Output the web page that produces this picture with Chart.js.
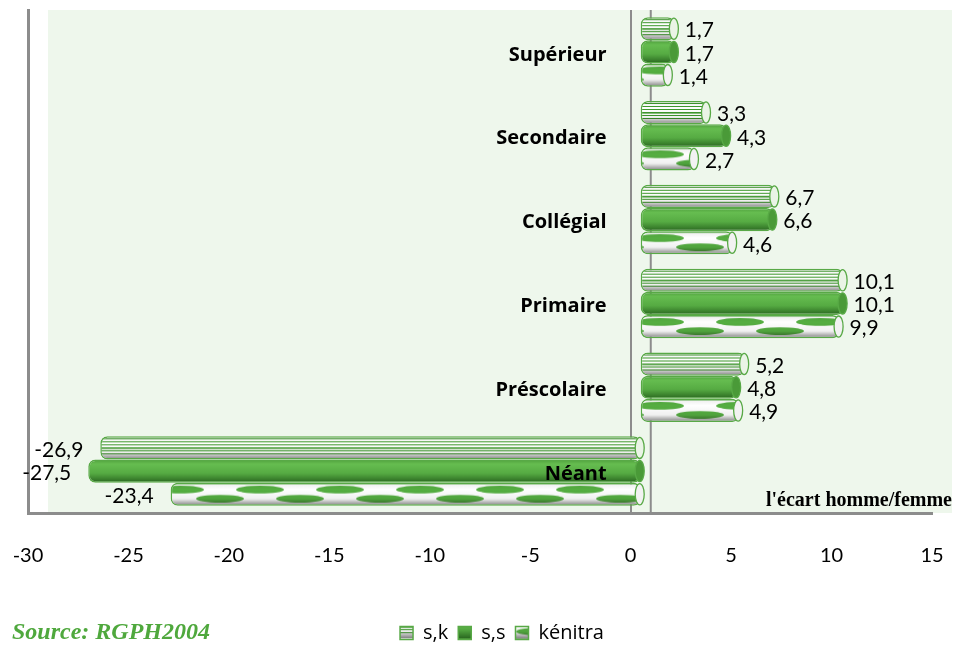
<!DOCTYPE html>
<html lang="fr">
<head>
  <meta charset="UTF-8">
  <title>Écart homme/femme selon le niveau d'instruction</title>
  <script src="https://cdn.jsdelivr.net/npm/chart.js"></script>
  <style>
    html, body { margin: 0; padding: 0; background: #fff; }
    .chart-wrap { position: relative; width: 964px; height: 645px; }
  </style>
</head>
<body>

<div class="chart-wrap">
  <canvas id="ecartChart"></canvas>
</div>

<script>
  // valeurs (de haut en bas)
  const categories = ['Supérieur', 'Secondaire', 'Collégial', 'Primaire', 'Préscolaire', 'Néant'];
  const sk      = [1.7, 3.3, 6.7, 10.1, 5.2, -26.9];
  const ss      = [1.7, 4.3, 6.6, 10.1, 4.8, -27.5];
  const kenitra = [1.4, 2.7, 4.6, 9.9, 4.9, -23.4];
  const xTickValues = [-30, -25, -20, -15, -10, -5, 0, 5, 10, 15];

  const GREEN = '#58a946';
  const AXIS_GREY = '#8c8c8c';
  const CAT_PCT = 0.83;

  function shade(g, w, h) {
    const grad = g.createLinearGradient(0, 0, 0, h);
    grad.addColorStop(0, 'rgba(0,0,0,0.08)');
    grad.addColorStop(0.3, 'rgba(0,0,0,0)');
    grad.addColorStop(0.7, 'rgba(0,0,0,0.06)');
    grad.addColorStop(1, 'rgba(0,0,0,0.5)');
    g.fillStyle = grad;
    g.fillRect(0, 0, w, h);
  }

  // une tuile de la hauteur d'une barre, pour l'effet cylindre
  function makeTile(kind, h) {
    const c = document.createElement('canvas');
    const w = kind === 'kenitra' ? 80 : 8;
    h = Math.max(2, Math.round(h));
    c.width = w; c.height = h;
    const g = c.getContext('2d');
    if (kind === 'ss') {
      const grad = g.createLinearGradient(0, 0, 0, h);
      grad.addColorStop(0, '#4f9f3d');
      grad.addColorStop(0.2, '#66bd50');
      grad.addColorStop(0.6, '#56ab43');
      grad.addColorStop(1, '#2a6720');
      g.fillStyle = grad;
      g.fillRect(0, 0, w, h);
    } else if (kind === 'sk') {
      g.fillStyle = '#fff';
      g.fillRect(0, 0, w, h);
      g.fillStyle = '#3f9a2e';
      for (let y = 2; y < h - 3; y += 3) {
        g.fillRect(0, y, w, (y > h * 0.35 && y < h * 0.6) ? 1.6 : 1);
      }
      shade(g, w, h);
    } else {
      g.fillStyle = '#fff';
      g.fillRect(0, 0, w, h);
      g.fillStyle = '#55ae41';
      const rows = [[h * 0.3, 0], [h * 0.7, w / 2]];
      rows.forEach(([cy, off]) => {
        [-w, 0, w].forEach(dx => {
          g.beginPath();
          g.ellipse(off + dx + w / 4, cy, w * 0.3, h * 0.17, 0, 0, Math.PI * 2);
          g.fill();
        });
      });
      g.fillStyle = 'rgba(78,168,59,0.6)';
      g.fillRect(0, 0, w, 2);
      shade(g, w, h);
    }
    return g.createPattern(c, 'repeat');
  }

  // petites cases de la légende
  function legendFill(kind) {
    if (kind === 'ss') return '#5cb24a';
    const c = document.createElement('canvas');
    c.width = 4; c.height = 3;
    const g = c.getContext('2d');
    g.fillStyle = '#5cb24a';
    g.fillRect(0, 0, 4, 3);
    g.fillStyle = '#fff';
    if (kind === 'sk') g.fillRect(0, 2, 4, 1);
    else g.fillRect(1, 1, 1, 1);
    return g.createPattern(c, 'repeat');
  }

  function barFill(kind, dsIndex) {
    return function (ctx) {
      const chart = ctx.chart;
      const area = chart.chartArea;
      if (!area || ctx.dataIndex === undefined) return legendFill(kind);
      const yScale = chart.scales.y;
      const group = (area.bottom - area.top) / categories.length * CAT_PCT;
      const barH = group / 3;
      const top = yScale.getPixelForValue(ctx.dataIndex) - group / 2 + dsIndex * barH;
      const pat = makeTile(kind, barH);
      pat.setTransform(new DOMMatrix([1, 0, 0, 1, 0, top]));
      return pat;
    };
  }

  const decorPlugin = {
    id: 'decor',
    afterLayout(chart) {
      // légende un peu décalée vers la droite, comme sur l'original
      chart.legend.left += 22;
      chart.legend.right += 22;
    },
    beforeDraw(chart) {
      const {ctx, chartArea: a} = chart;
      ctx.save();
      ctx.fillStyle = '#eef7ec';
      ctx.fillRect(a.left + 20, a.top, a.right - a.left, a.bottom - a.top);
      // paroi du fond (effet 3D)
      const x1 = chart.scales.x.getPixelForValue(1);
      ctx.strokeStyle = AXIS_GREY;
      ctx.lineWidth = 2;
      ctx.beginPath();
      ctx.moveTo(x1, a.top);
      ctx.lineTo(x1, a.bottom);
      ctx.stroke();
      ctx.restore();
    },
    afterDatasetsDraw(chart) {
      const {ctx, chartArea: a} = chart;
      const capFill = ['#eaf4e6', '#4a9a38', '#f2f2f2'];
      ctx.save();
      // bouts des cylindres
      chart.data.datasets.forEach((ds, i) => {
        chart.getDatasetMeta(i).data.forEach(el => {
          const {x, y, base, height} = el.getProps(['x', 'y', 'base', 'height'], true);
          const right = Math.max(x, base);
          ctx.beginPath();
          ctx.ellipse(right - 1, y, 4.5, height / 2 - 1, 0, 0, Math.PI * 2);
          ctx.fillStyle = capFill[i];
          ctx.fill();
          ctx.lineWidth = 1.3;
          ctx.strokeStyle = GREEN;
          ctx.stroke();
        });
      });
      // valeurs
      ctx.font = '21px Lato';
      ctx.fillStyle = '#000';
      ctx.textBaseline = 'middle';
      chart.data.datasets.forEach((ds, i) => {
        chart.getDatasetMeta(i).data.forEach((el, j) => {
          const v = ds.data[j];
          const txt = String(v).replace('.', ',');
          if (v >= 0) {
            ctx.textAlign = 'left';
            ctx.fillText(txt, el.x + 10, el.y + 2);
          } else {
            ctx.textAlign = 'right';
            ctx.fillText(txt, el.x - 17, el.y + 2);
          }
        });
      });
      // catégories, collées à l'axe 0
      const x0 = chart.scales.x.getPixelForValue(0);
      ctx.font = 'bold 20px "Open Sans"';
      ctx.textAlign = 'right';
      categories.forEach((c, i) => {
        ctx.fillText(c, x0 - 24, chart.scales.y.getPixelForValue(i) + 3);
      });
      // titre de l'axe
      ctx.font = 'bold 20px "Liberation Serif"';
      ctx.textAlign = 'right';
      ctx.textBaseline = 'alphabetic';
      ctx.fillText("l'écart homme/femme", a.right + 20, a.bottom - 7);
      ctx.restore();
    },
    afterDraw(chart) {
      const ctx = chart.ctx;
      ctx.save();
      ctx.font = 'italic bold 24px "Liberation Serif"';
      ctx.fillStyle = '#4fa83d';
      ctx.textAlign = 'left';
      ctx.textBaseline = 'middle';
      ctx.fillText('Source: RGPH2004', 12, 633);
      ctx.restore();
    }
  };

  new Chart(document.getElementById('ecartChart'), {
    type: 'bar',
    data: {
      labels: categories,
      datasets: [
        { label: 's,k', data: sk, backgroundColor: barFill('sk', 0) },
        { label: 's,s', data: ss, backgroundColor: barFill('ss', 1) },
        { label: 'kénitra', data: kenitra, backgroundColor: barFill('kenitra', 2) }
      ].map(ds => Object.assign(ds, {
        xAxisID: 'xb',
        yAxisID: 'y',
        borderColor: GREEN,
        borderWidth: 1.5,
        borderRadius: 7,
        borderSkipped: false,
        categoryPercentage: CAT_PCT,
        barPercentage: 1
      }))
    },
    options: {
      indexAxis: 'y',
      responsive: true,
      maintainAspectRatio: false,
      animation: false,
      layout: { padding: { top: 10, left: 28, right: 32, bottom: -8 } },
      scales: {
        x: {
          axis: 'x',
          position: 'bottom',
          min: -30,
          max: 15,
          afterBuildTicks(scale) { scale.ticks = xTickValues.map(v => ({ value: v })); },
          afterFit(scale) { scale.height = 100; },
          ticks: {
            padding: 3,
            color: '#000',
            font: { family: 'Lato', size: 20 },
            callback: v => String(v)
          },
          grid: {
            drawTicks: true,
            tickLength: 28,
            tickColor: 'rgba(0,0,0,0)',
            lineWidth: 2,
            color: ctx => (ctx.tick && ctx.tick.value === 0) ? AXIS_GREY : 'rgba(0,0,0,0)'
          },
          border: { display: true, color: AXIS_GREY, width: 3 }
        },
        xb: {
          axis: 'x',
          display: false,
          min: -30.5,
          max: 14.5
        },
        y: {
          position: 'left',
          afterFit(scale) { scale.width = 0; },
          ticks: { display: false },
          grid: { display: false, drawTicks: false },
          border: { display: true, color: AXIS_GREY, width: 3 }
        }
      },
      plugins: {
        legend: {
          position: 'bottom',
          labels: {
            boxWidth: 13,
            boxHeight: 13,
            padding: 10,
            color: '#000',
            font: { family: 'Open Sans', size: 20 }
          }
        },
        tooltip: { enabled: false }
      }
    },
    plugins: [decorPlugin]
  });
</script>

</body>
</html>
